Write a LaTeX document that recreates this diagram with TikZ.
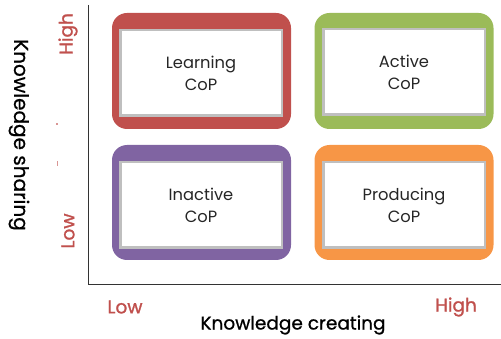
\documentclass[tikz,border=0pt]{standalone}
\usepackage{fontspec}
\setmainfont{Poppins}
\newfontfamily\semifont[FakeBold=1.2]{Poppins}
\newfontfamily\medfont[FakeBold=0.8]{Poppins}
\definecolor{cred}{HTML}{C0504D}
\definecolor{cgreen}{HTML}{9BBB59}
\definecolor{cpurple}{HTML}{8064A2}
\definecolor{corange}{HTML}{F79646}
\definecolor{cgray}{HTML}{BFBFBF}
\definecolor{clab}{HTML}{C0504D}
\begin{document}
\begin{tikzpicture}[x=1pt,y=-1pt,
  outerbox/.style={rectangle,rounded corners=15pt,minimum width=179pt,minimum height=116pt,inner sep=0pt,draw=none},
  innerbox/.style={rectangle,fill=white,draw=cgray,line width=2.5pt,minimum width=161.5pt,minimum height=85.5pt,inner sep=0pt,align=center,font=\fontsize{16.3}{22}\selectfont, text=black!85},
  lvl/.style={text=clab,font=\semifont\fontsize{18.5}{20}\selectfont},
  axis/.style={draw=black!80,line width=1pt}]
\useasboundingbox (0,0) rectangle (501,339);
% axes
\coordinate (otop) at (88,5);
\coordinate (orig) at (88,285);
\coordinate (oright) at (501,285);
\draw[axis] (otop) -- (orig) -- (oright);
% boxes
\node[outerbox,fill=cred] (lo) at (201.5,71) {};
\node[innerbox] (li) at (201,73) {Learning\\CoP};
\node[outerbox,fill=cgreen] (ao) at (404,71) {};
\node[innerbox] (ai) at (404,72) {Active\\CoP};
\node[outerbox,fill=cpurple,minimum height=115pt] (io) at (201.5,202.5) {};
\node[innerbox] (ii) at (201,205) {Inactive\\CoP};
\node[outerbox,fill=corange,minimum height=115pt] (po) at (404,202.5) {};
\node[innerbox] (pi) at (404,205) {Producing\\CoP};
% level labels
\node[lvl,rotate=90] (yh) at (68,34) {High};
\node[lvl,rotate=90] (yl) at (68,231) {Low};
\node[lvl] (xl) at (125,307) {Low};
\node[lvl] (xh) at (456,307) {High};
% small marks
\fill[clab!60] (56.3,123.3) rectangle (57.7,125.2);
\fill[clab!60] (56.5,161.5) rectangle (57.5,166);
% axis titles
\node[rotate=-90,font=\medfont\fontsize{20}{22}\selectfont] (ys) at (19,135) {Knowledge sharing};
\node[font=\medfont\fontsize{18.5}{20}\selectfont] (xc) at (293,325) {Knowledge creating};
\end{tikzpicture}
\end{document}
